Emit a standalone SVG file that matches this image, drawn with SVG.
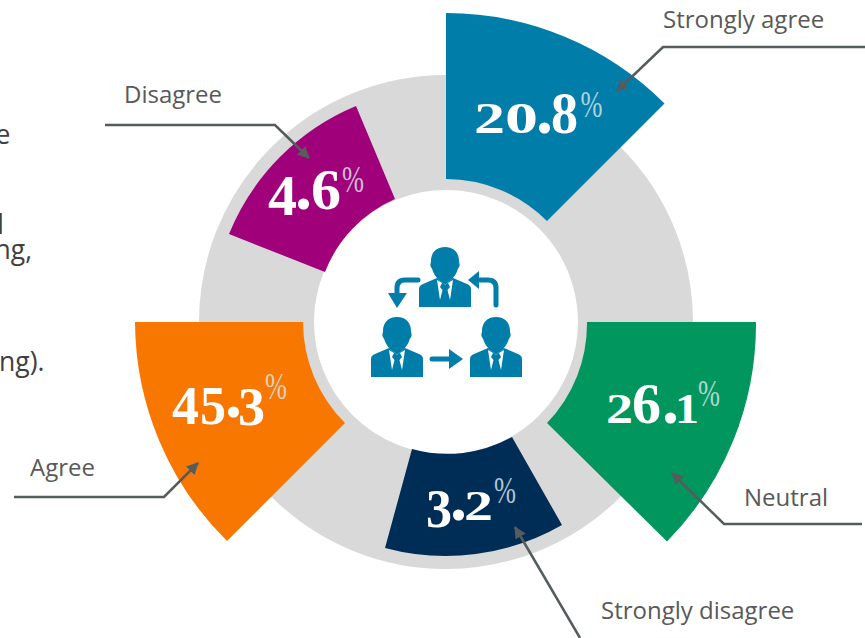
<svg xmlns="http://www.w3.org/2000/svg" xmlns:xlink="http://www.w3.org/1999/xlink" width="865" height="638" viewBox="0 0 865 638">
<style>
.lbl{font-family:"Open Sans","Liberation Sans",sans-serif;font-size:24px;fill:#595959}
.body{font-family:"Open Sans","Liberation Sans",sans-serif;font-size:26.500px;fill:#404040}
.num{font-family:"Liberation Serif",serif;font-weight:700;font-size:56px;fill:#fff}
.dot{font-size:68px}
.pct{font-family:"Liberation Serif",serif;font-size:38px;fill:#d5e2e4;fill-opacity:.85}
.lead{fill:none;stroke:#545c5e;stroke-width:2.500;marker-end:url(#arr)}
.ico{fill:#007da8}
.icl{fill:none;stroke:#007da8;stroke-width:5;stroke-linecap:round}
</style>
<defs>
<marker id="arr" markerUnits="userSpaceOnUse" markerWidth="14" markerHeight="12" refX="11" refY="6" orient="auto"><path d="M0 0L12 6L0 12Z" fill="#545c5e"/></marker>
<g id="person">
<path class="ico" d="M0 0C9 0 14 6 14 14C14 16 15 17 14.500 19C14 21 13 21 12.500 23C11 28 6 35 0 35C-6 35 -11 28 -12.500 23C-13 21 -14 21 -14.500 19C-15 17 -14 16 -14 14C-14 6 -9 0 0 0Z"/>
<path class="ico" d="M-26 60V42C-26 39 -24 38 -22 37L-8 31L0 38L8 31L22 37C24 38 26 39 26 42V60Z"/>
<path fill="#fff" d="M-8 33L-3 36L-5 40L-2.500 43L-5 53ZM8 33L3 36L5 40L2.500 43L5 53Z"/>
<path class="ico" d="M-8 31L8 31L0 38Z"/>
</g>
</defs>
<g id="intro-text">
<text class="body" x="10.500" y="144" text-anchor="end">e</text>
<text class="body" x="4" y="234" text-anchor="end">l</text>
<text class="body" x="32" y="259" text-anchor="end">ng,</text>
<text class="body" x="44.500" y="371" text-anchor="end">ng).</text>
</g>
<g id="ring"><circle cx="446" cy="322" r="189.500" fill="none" stroke="#d9d9d9" stroke-width="115"/></g>
<g id="node-strongly-agree">
<path fill="#007da8" d="M446 13A309 309 0 0 1 664.500 103.500L547 221A143 143 0 0 0 446 179Z"/>
<text class="num"><tspan x="474" y="133" font-size="44" textLength="31" lengthAdjust="spacingAndGlyphs">2</tspan><tspan x="505" y="133" font-size="44" textLength="33" lengthAdjust="spacingAndGlyphs">0</tspan><tspan class="dot" x="536" y="133">.</tspan><tspan x="551" y="133" font-size="60" textLength="27" lengthAdjust="spacingAndGlyphs">8</tspan></text>
<text class="pct" x="580.500" y="116.500" textLength="22" lengthAdjust="spacingAndGlyphs">%</text>
</g>
<g id="node-neutral">
<path fill="#00965e" d="M756 322A310 310 0 0 1 667 541.500L547 423A143 143 0 0 0 587 322Z"/>
<text class="num"><tspan x="606" y="423" font-size="42" textLength="27" lengthAdjust="spacingAndGlyphs">2</tspan><tspan x="632" y="423" textLength="29" lengthAdjust="spacingAndGlyphs">6</tspan><tspan class="dot" x="662" y="423">.</tspan><tspan x="675" y="423" font-size="42" textLength="24" lengthAdjust="spacingAndGlyphs">1</tspan></text>
<text class="pct" x="698" y="406" textLength="22" lengthAdjust="spacingAndGlyphs">%</text>
</g>
<g id="node-strongly-disagree">
<path fill="#002d56" d="M562 525A234 234 0 0 1 385 548L412 449A132 132 0 0 0 512 437Z"/>
<text class="num"><tspan x="426" y="527" font-size="55" textLength="26" lengthAdjust="spacingAndGlyphs">3</tspan><tspan class="dot" x="450" y="520">.</tspan><tspan x="464" y="520" font-size="42" textLength="29" lengthAdjust="spacingAndGlyphs">2</tspan></text>
<text class="pct" x="494" y="502.500" textLength="22" lengthAdjust="spacingAndGlyphs">%</text>
</g>
<g id="node-agree">
<path fill="#f77700" d="M135 322H303A143 143 0 0 0 345 423L227 541A310 310 0 0 1 135 322Z"/>
<text class="num"><tspan x="172" y="424" font-size="55" textLength="27" lengthAdjust="spacingAndGlyphs">4</tspan><tspan x="200" y="424" font-size="55" textLength="26" lengthAdjust="spacingAndGlyphs">5</tspan><tspan class="dot" x="225" y="417">.</tspan><tspan x="238" y="425" font-size="55" textLength="27" lengthAdjust="spacingAndGlyphs">3</tspan></text>
<text class="pct" x="265" y="399" textLength="22" lengthAdjust="spacingAndGlyphs">%</text>
</g>
<g id="node-disagree">
<path fill="#a0007a" d="M229 234A234 234 0 0 1 356 106L395 199A132 132 0 0 0 325 272Z"/>
<text class="num"><tspan x="268" y="215" textLength="29" lengthAdjust="spacingAndGlyphs">4</tspan><tspan class="dot" x="295" y="209">.</tspan><tspan x="311" y="209" font-size="58" textLength="30" lengthAdjust="spacingAndGlyphs">6</tspan></text>
<text class="pct" x="342" y="192" textLength="22" lengthAdjust="spacingAndGlyphs">%</text>
</g>
<g id="node-icon">
<use xlink:href="#person" href="#person" x="445" y="247"/>
<use xlink:href="#person" href="#person" x="397" y="317"/>
<use xlink:href="#person" href="#person" x="496" y="317"/>
<path class="icl" d="M418 280H405Q397 280 397 288V294"/>
<path class="ico" d="M388 293H407L397 308Z"/>
<path class="icl" d="M496 305V288Q496 280 488 280H478"/>
<path class="ico" d="M468 280L479 271V289Z"/>
<path class="icl" d="M432 359H451"/>
<path class="ico" d="M449 349L463 359L449 369Z"/>
</g>
<g id="connectors">
<path class="lead" d="M865 47H663L617 91"/>
<path class="lead" d="M105 125H275L309 158"/>
<path class="lead" d="M14 497H164L198 463"/>
<path class="lead" d="M862 524H724L672 473"/>
<path class="lead" d="M580 638L515 527"/>
</g>
<g id="labels">
<text class="lbl" x="663" y="28">Strongly agree</text>
<text class="lbl" x="124" y="103">Disagree</text>
<text class="lbl" x="30" y="476">Agree</text>
<text class="lbl" x="744" y="506">Neutral</text>
<text class="lbl" x="601" y="619">Strongly disagree</text>
</g>
</svg>
